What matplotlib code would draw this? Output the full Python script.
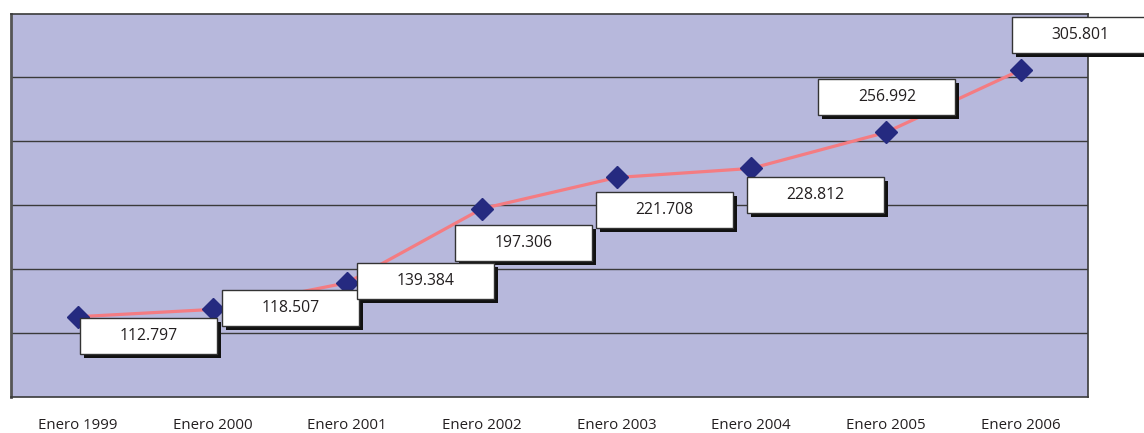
import matplotlib.pyplot as plt
from matplotlib.patches import Rectangle
from matplotlib.transforms import Affine2D, ScaledTranslation

plt.rcParams["font.family"] = ["Open Sans", "DejaVu Sans"]

years = ["Enero 1999", "Enero 2000", "Enero 2001", "Enero 2002",
         "Enero 2003", "Enero 2004", "Enero 2005", "Enero 2006"]
values = [112.797, 118.507, 139.384, 197.306, 221.708, 228.812, 256.992, 305.801]
labels = ["112.797", "118.507", "139.384", "197.306",
          "221.708", "228.812", "256.992", "305.801"]

# label box centre, in pixels from its point (right, up)
box_offsets = [(71, -19), (78, 1), (78, 2), (42, -34),
               (48, -33), (64, -27), (1, 35), (60, 35)]
BOX_W, BOX_H = 137, 36

fig = plt.figure(figsize=(11.44, 4.33), dpi=100)
ax = fig.add_axes([10.5 / 1144, 36 / 433, 1077.5 / 1144, 383.5 / 433])
ax.set_facecolor("#b7b8dc")

x = list(range(len(years)))
ax.plot(x, values, color="#f47c82", lw=2.3, zorder=3)
ax.plot(x, values, ls="none", marker="D", ms=11, color="#252a80", zorder=4)

for i, (v, lab) in enumerate(zip(values, labels)):
    dx, dy = box_offsets[i]
    t = Affine2D() + ScaledTranslation(i, v, ax.transData)
    shadow = Rectangle((dx - BOX_W / 2 + 4, dy - BOX_H / 2 - 4), BOX_W, BOX_H,
                       transform=t, facecolor="#111111", edgecolor="none",
                       clip_on=False, zorder=5)
    box = Rectangle((dx - BOX_W / 2, dy - BOX_H / 2), BOX_W, BOX_H,
                    transform=t, facecolor="white", edgecolor="#333333", lw=1,
                    clip_on=False, zorder=6)
    ax.add_artist(shadow)
    ax.add_artist(box)
    ax.annotate(lab, (i, v), xytext=(dx, dy), textcoords="offset pixels",
                ha="center", va="center", fontsize=11.3, color="#231f20",
                zorder=7, annotation_clip=False)

ax.set_xlim(-0.5, 7.5)
ax.set_ylim(50, 350)
ax.set_yticks([100, 150, 200, 250, 300])
ax.set_yticklabels([])
ax.set_xticks(x, years, fontsize=10.8, color="#231f20")
ax.tick_params(length=0)
ax.tick_params(axis="x", pad=15)
ax.yaxis.grid(True, color="#3a3a3a", lw=1)
ax.set_axisbelow(True)
for s in ax.spines.values():
    s.set_color("#3a3a3a")
    s.set_linewidth(1.2)
ax.spines["left"].set_color("#555555")
ax.spines["left"].set_linewidth(2)

fig.savefig("out.png", dpi=100)
